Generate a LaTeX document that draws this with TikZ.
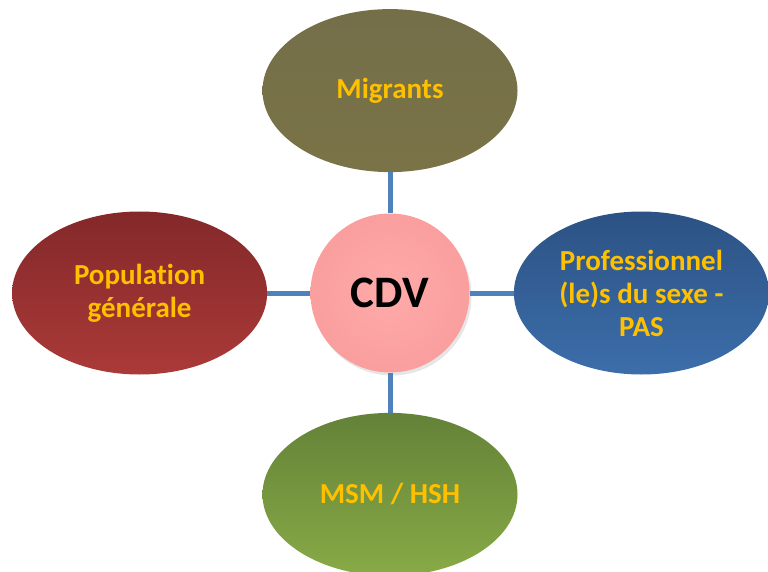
\documentclass[tikz,border=0pt]{standalone}
\usepackage{fontspec}
\setmainfont[Ligatures=NoCommon]{Carlito}
\usepackage{tikz}
\usetikzlibrary{positioning,shapes.geometric,shadows}

\definecolor{gold}{HTML}{FFC000}
\definecolor{lnkblue}{HTML}{4F81BD}

\begin{document}
\begin{tikzpicture}[x=1pt, y=-1pt]
\tikzstyle{grp}=[ellipse, minimum width=255pt, minimum height=163pt, inner sep=0pt,
  align=center, text=gold, font=\fontsize{29}{33}\selectfont\bfseries]
\tikzstyle{ctr}=[circle, minimum size=159pt, inner sep=0pt,
  drop shadow={opacity=0.2, shadow xshift=2pt, shadow yshift=-3pt},
  font=\fontsize{45}{50}\selectfont\bfseries]
\tikzstyle{lnk}=[draw=lnkblue, line width=5pt]
\useasboundingbox (0,0) rectangle (768,572);

\node[ctr, inner color={rgb,255:red,255;green,170;blue,170}, outer color={rgb,255:red,250;green,158;blue,158}] (C) at (390,293) {CDV};
\node[grp, above=41pt of C, top color={rgb,255:red,116;green,111;blue,73}, bottom color={rgb,255:red,122;green,115;blue,71}] (M) {Migrants};
\node[grp, left=43pt of C, top color={rgb,255:red,132;green,40;blue,42}, bottom color={rgb,255:red,170;green,58;blue,56}] (P) {Population\\générale};
\node[grp, right=44pt of C, top color={rgb,255:red,44;green,82;blue,132}, bottom color={rgb,255:red,60;green,110;blue,170}] (S) {Professionnel\\(le)s du sexe -\\PAS};
\node[grp, below=40pt of C, top color={rgb,255:red,100;green,130;blue,56}, bottom color={rgb,255:red,136;green,170;blue,70}] (H) {MSM / HSH};

\foreach \g in {M, P, S, H}{\draw[lnk] (C) -- (\g);}
\end{tikzpicture}
\end{document}
